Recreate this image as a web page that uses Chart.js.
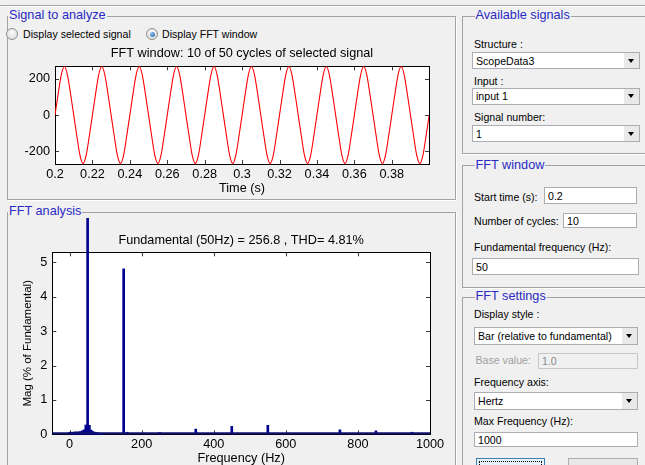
<!DOCTYPE html>
<html>
<head>
<meta charset="utf-8">
<script src="https://cdn.jsdelivr.net/npm/chart.js@4/dist/chart.umd.min.js"></script>
<style>
  html, body { margin: 0; padding: 0; }
  body {
    width: 645px; height: 465px; overflow: hidden; position: relative;
    background: #f0f0f0; font-family: 'Liberation Sans', Arial, sans-serif;
  }
  .panel {
    position: absolute; box-sizing: border-box;
    border: 1px solid #a3a3a3; box-shadow: 1px 1px 0 #fff;
  }
  .ptitle {
    position: absolute; font-size: 12.7px; line-height: 15px; color: #2a2ac4;
    background: #f0f0f0; padding: 0 1px; white-space: nowrap;
  }
  .lbl { position: absolute; font-size: 10.6px; line-height: 12px; color: #000; white-space: nowrap; }
  .lbl.off { color: #a0a0a0; }
  .box {
    position: absolute; box-sizing: border-box; background: #fff; border: 1px solid #abadb3;
    font-size: 10.6px; color: #000; padding-left: 3px; display: flex; align-items: center; white-space: nowrap;
  }
  .box.off { background: #f0f0f0; border-color: #c6c6c6; color: #8a8a8a; }
  .drop .arrow {
    position: absolute; right: 0; top: 0; bottom: 0; width: 15px; background: #e9e9e9;
  }
  .drop .arrow::after {
    content: ''; position: absolute; left: 4px; top: 50%; margin-top: -2px;
    border-left: 3.5px solid transparent; border-right: 3.5px solid transparent; border-top: 4px solid #000;
  }
  .radio {
    position: absolute; width: 12px; height: 12px; box-sizing: border-box; border-radius: 50%;
    border: 1px solid #8e8f8f; background: radial-gradient(circle at 50% 40%, #fbfbfb, #d9d9d9);
  }
  .radio.on::after {
    content: ''; position: absolute; left: 2.5px; top: 2.5px; width: 5px; height: 5px; border-radius: 50%;
    background: radial-gradient(circle at 40% 35%, #8cc4f0, #1d5d9e);
  }
  .btn { position: absolute; box-sizing: border-box; height: 22px; }
  canvas { position: absolute; left: 0; }
</style>
</head>
<body>
<div class="panel" style="left:0;top:5px;width:700px;height:0;border-width:1px 0 0 0"></div>

<div class="panel" style="left:7px;top:16px;width:449px;height:184px"></div>
<div class="ptitle" style="left:8px;top:8px">Signal to analyze</div>
<div class="radio" style="left:6px;top:28px"></div>
<div class="lbl" style="left:23px;top:28px">Display selected signal</div>
<div class="radio on" style="left:146px;top:28px"></div>
<div class="lbl" style="left:162px;top:28px">Display FFT window</div>

<div class="panel" style="left:7px;top:212px;width:449px;height:280px"></div>
<div class="ptitle" style="left:8px;top:203.5px">FFT analysis</div>

<div class="panel" style="left:462px;top:16px;width:220px;height:138px"></div>
<div class="ptitle" style="left:474.5px;top:8px">Available signals</div>
<div class="lbl" style="left:474px;top:38px">Structure :</div>
<div class="box drop" style="left:472px;top:52px;width:168px;height:17px">ScopeData3<span class="arrow"></span></div>
<div class="lbl" style="left:474px;top:74.5px">Input :</div>
<div class="box drop" style="left:472px;top:87.5px;width:168px;height:17px">input 1<span class="arrow"></span></div>
<div class="lbl" style="left:474px;top:111px">Signal number:</div>
<div class="box drop" style="left:472px;top:125px;width:168px;height:17px">1<span class="arrow"></span></div>

<div class="panel" style="left:462px;top:165px;width:220px;height:123px"></div>
<div class="ptitle" style="left:474.5px;top:157.5px">FFT window</div>
<div class="lbl" style="left:474px;top:190.5px">Start time (s):</div>
<div class="box" style="left:544px;top:187px;width:93px;height:17px">0.2</div>
<div class="lbl" style="left:474px;top:215px">Number of cycles:</div>
<div class="box" style="left:563px;top:213px;width:74px;height:15px">10</div>
<div class="lbl" style="left:474px;top:240.5px">Fundamental frequency (Hz):</div>
<div class="box" style="left:472px;top:258px;width:167px;height:17px">50</div>

<div class="panel" style="left:462px;top:297px;width:220px;height:200px"></div>
<div class="ptitle" style="left:474.5px;top:289px">FFT settings</div>
<div class="lbl" style="left:474px;top:308px">Display style :</div>
<div class="box drop" style="left:474px;top:327px;width:164px;height:18px">Bar (relative to fundamental)<span class="arrow"></span></div>
<div class="lbl off" style="left:475.5px;top:354px">Base value:</div>
<div class="box off" style="left:538px;top:353px;width:100px;height:16px">1.0</div>
<div class="lbl" style="left:474px;top:376px">Frequency axis:</div>
<div class="box drop" style="left:474px;top:392px;width:164px;height:18px">Hertz<span class="arrow"></span></div>
<div class="lbl" style="left:474px;top:414.5px">Max Frequency (Hz):</div>
<div class="box" style="left:474px;top:432px;width:164px;height:15px">1000</div>
<div class="btn" style="left:476px;top:458px;width:69px;border:1px solid #3c7fb1;background:#e5f1fb;">
  <div style="position:absolute;left:2px;top:2px;right:2px;bottom:2px;border:1px dotted #000"></div>
</div>
<div class="btn" style="left:568px;top:458px;width:70px;border:1px solid #adadad;background:#e8e8e8;"></div>

<canvas id="signalChart" width="455" height="160" style="top:40px;width:455px;height:160px"></canvas>
<canvas id="fftChart" width="455" height="255" style="top:218px;width:455px;height:255px"></canvas>

<script>
// ---- Time-domain signal (FFT window: 0.2 s to 0.4 s, 12 samples per 50 Hz cycle) ----
const windowStart = 0.2;
const sampleStep = 0.02 / 12;
const signalValues = [
  0, 116, 222, 269, 222, 116, 0, -116, -222, -269, -222, -116,
  0, 116, 222, 269, 222, 116, 0, -116, -222, -269, -222, -116,
  0, 116, 222, 269, 222, 116, 0, -116, -222, -269, -222, -116,
  0, 116, 222, 269, 222, 116, 0, -116, -222, -269, -222, -116,
  0, 116, 222, 269, 222, 116, 0, -116, -222, -269, -222, -116,
  0, 116, 222, 269, 222, 116, 0, -116, -222, -269, -222, -116,
  0, 116, 222, 269, 222, 116, 0, -116, -222, -269, -222, -116,
  0, 116, 222, 269, 222, 116, 0, -116, -222, -269, -222, -116,
  0, 116, 222, 269, 222, 116, 0, -116, -222, -269, -222, -116,
  0, 116, 222, 269, 222, 116, 0, -116, -222, -269, -222, -116,
  0
];
const timeTicks = [0.2, 0.22, 0.24, 0.26, 0.28, 0.3, 0.32, 0.34, 0.36, 0.38];
const signalTicks = [-200, 0, 200];

// ---- Spectrum (magnitude in % of the 50 Hz fundamental) ----
const harmonicFreqs = [0, 5, 10, 15, 20, 25, 30, 35, 40, 45, 50, 55, 60, 65, 70, 75, 80, 85, 90,
                       150, 160, 250, 350, 450, 550, 750, 850, 950];
const harmonicMags  = [0.06, 0.06, 0.06, 0.07, 0.07, 0.07, 0.08, 0.10, 0.13, 0.27, 100, 0.26, 0.12, 0.08, 0.06, 0.05, 0.04, 0.03, 0.02,
                       4.81, 0.06, 0.05, 0.15, 0.23, 0.26, 0.13, 0.10, 0.06];
const freqTicks = [0, 200, 400, 600, 800, 1000];
const magTicks = [0, 1, 2, 3, 4, 5];

const FONT = "'Liberation Sans', Arial, sans-serif";
Chart.defaults.font.family = FONT;
Chart.defaults.font.size = 12.7;
Chart.defaults.color = '#000';

// White axes background, box and inward tick marks on all four sides
const boxedAxes = {
  id: 'boxedAxes',
  beforeDraw(chart) {
    const { ctx, chartArea: a } = chart;
    ctx.save();
    ctx.fillStyle = '#ffffff';
    ctx.fillRect(a.left, a.top, a.right - a.left, a.bottom - a.top);
    ctx.restore();
  },
  beforeDatasetsDraw(chart, args, opts) {
    const { ctx, chartArea: a, scales: { x, y } } = chart;
    const L = opts.tickLength || 4;
    ctx.save();
    ctx.lineWidth = 1;
    ctx.strokeStyle = '#3a3a3a';
    ctx.beginPath();
    x.ticks.forEach(t => {
      const px = Math.round(x.getPixelForValue(t.value)) + 0.5;
      ctx.moveTo(px, a.bottom); ctx.lineTo(px, a.bottom - L);
      ctx.moveTo(px, a.top); ctx.lineTo(px, a.top + L);
    });
    y.ticks.forEach(t => {
      const py = Math.round(y.getPixelForValue(t.value)) + 0.5;
      ctx.moveTo(a.left, py); ctx.lineTo(a.left + L, py);
      ctx.moveTo(a.right, py); ctx.lineTo(a.right - L, py);
    });
    ctx.stroke();
    ctx.strokeStyle = '#000';
    const l = Math.round(a.left) + 0.5, t = Math.round(a.top) + 0.5;
    ctx.strokeRect(l, t, Math.round(a.right) - Math.round(a.left), Math.round(a.bottom) - Math.round(a.top));
    ctx.restore();
  },
  afterDatasetsDraw(chart, args, opts) {
    if (!opts.baselineColor) return;
    const { ctx, chartArea: a, scales: { y } } = chart;
    const py = y.getPixelForValue(0);
    ctx.save();
    ctx.strokeStyle = opts.baselineColor;
    ctx.lineWidth = 2;
    ctx.beginPath();
    ctx.moveTo(a.left, py - 1);
    ctx.lineTo(a.right, py - 1);
    ctx.stroke();
    ctx.restore();
  }
};

function fixedTicks(values) {
  return scale => { scale.ticks = values.map(v => ({ value: v })); };
}

// Signal plot
new Chart(document.getElementById('signalChart'), {
  type: 'line',
  data: {
    datasets: [{
      data: signalValues.map((v, i) => ({ x: +(windowStart + i * sampleStep).toFixed(6), y: v })),
      borderColor: '#ff0000',
      borderWidth: 1.1,
      pointRadius: 0,
      cubicInterpolationMode: 'monotone'
    }]
  },
  options: {
    responsive: false, animation: false, devicePixelRatio: 1,
    layout: { padding: { left: 0, right: 26, top: 0, bottom: 0 } },
    plugins: {
      legend: { display: false }, tooltip: { enabled: false },
      title: {
        display: true, fullSize: false, text: 'FFT window: 10 of 50 cycles of selected signal',
        font: { size: 12.7, weight: 'normal' }, color: '#000',
        padding: { top: 5.4, bottom: 5.7 }
      },
      boxedAxes: { tickLength: 4 }
    },
    scales: {
      x: {
        type: 'linear', min: 0.2, max: 0.3999, offset: false,
        border: { display: false }, grid: { display: false, drawTicks: false },
        afterBuildTicks: fixedTicks(timeTicks),
        afterFit: s => { s.height = 36; },
        ticks: { padding: 2.4, maxRotation: 0, autoSkip: false, callback: v => String(v) },
        title: { display: true, text: 'Time (s)', font: { size: 12.7 }, padding: { top: 0, bottom: 3.4 } }
      },
      y: {
        type: 'linear', min: -271, max: 270,
        border: { display: false }, grid: { display: false, drawTicks: false },
        afterBuildTicks: fixedTicks(signalTicks),
        afterFit: s => { s.width = 55; },
        ticks: { padding: 5, callback: v => String(v) }
      }
    }
  },
  plugins: [boxedAxes]
});

// Spectrum bar plot
new Chart(document.getElementById('fftChart'), {
  type: 'bar',
  data: {
    datasets: [{
      data: harmonicFreqs.map((f, i) => ({ x: f, y: harmonicMags[i] })),
      backgroundColor: '#00008f',
      borderWidth: 0,
      barThickness: 2,
      clip: false
    }]
  },
  options: {
    responsive: false, animation: false, devicePixelRatio: 1,
    layout: { padding: { left: 0, right: 25, top: 0, bottom: 0 } },
    plugins: {
      legend: { display: false }, tooltip: { enabled: false },
      title: {
        display: true, fullSize: false, text: 'Fundamental (50Hz) = 256.8 , THD= 4.81%',
        font: { size: 12.7, weight: 'normal' }, color: '#000',
        padding: { top: 14.4, bottom: 4.7 }
      },
      boxedAxes: { tickLength: 4, baselineColor: '#10106e' }
    },
    scales: {
      x: {
        type: 'linear', min: -48, max: 1000, offset: false,
        border: { display: false }, grid: { display: false, drawTicks: false },
        afterBuildTicks: fixedTicks(freqTicks),
        afterFit: s => { s.height = 38.7; },
        ticks: { padding: 2.4, maxRotation: 0, autoSkip: false, callback: v => String(v) },
        title: { display: true, text: 'Frequency (Hz)', font: { size: 12.7 }, padding: { top: 0, bottom: 6.4 } }
      },
      y: {
        type: 'linear', min: 0, max: 5.29, beginAtZero: true,
        border: { display: false }, grid: { display: false, drawTicks: false },
        afterBuildTicks: fixedTicks(magTicks),
        afterFit: s => { s.width = 52.3; },
        ticks: { padding: 5, callback: v => String(v) },
        title: { display: true, text: 'Mag (% of Fundamental)', font: { size: 11.5 }, padding: { top: 21.4, bottom: 0 } }
      }
    }
  },
  plugins: [boxedAxes]
});
</script>
</body>
</html>
